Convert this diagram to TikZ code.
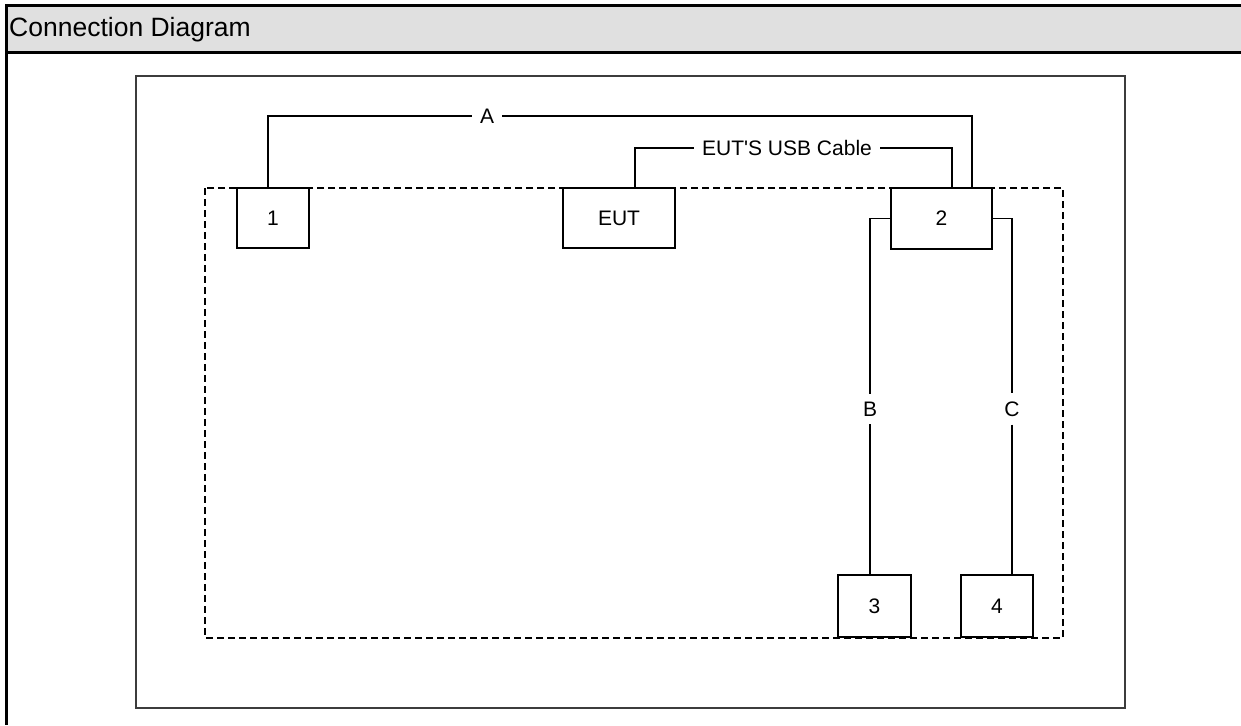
\documentclass[tikz,border=0pt]{standalone}
\usepackage{fontspec}
\setmainfont{Liberation Sans}
\definecolor{hdr}{RGB}{224,224,224}
\definecolor{frame}{RGB}{60,60,60}
\begin{document}
\begin{tikzpicture}[x=1pt,y=-1pt,
  dev/.style={draw=black,line width=1.8pt,fill=white,inner sep=0pt,font=\fontsize{21}{24}\selectfont},
  lbl/.style={inner xsep=8pt,inner ysep=2pt,font=\fontsize{21}{24}\selectfont},
  vlbl/.style={inner xsep=2pt,inner ysep=8pt,font=\fontsize{21}{24}\selectfont},
  cable/.style={line width=1.8pt},
  tbl/.style={line width=3pt}]
\useasboundingbox (0,0) rectangle (1241,725);
% table
\fill[hdr] (6,6) rectangle (1241,53);
\draw[tbl] (1241,6) -- (6,6) -- (6,725);
\draw[tbl] (6,53) -- (1241,53);
\node[anchor=west,font=\fontsize{26.5}{30}\selectfont,inner sep=0pt] (title) at (9,30) {Connection Diagram};
% frames
\draw[frame,line width=2pt] (135.5,75.5) rectangle (1125,708);
\draw[line width=1.6pt,dash pattern=on 7pt off 4pt] (205,188) rectangle (1063,638);
% devices
\node[dev,minimum width=72pt,minimum height=60pt] (b1) at (273,218) {1};
\node[dev,minimum width=112pt,minimum height=60pt] (eut) at (619,218) {EUT};
\node[dev,minimum width=101pt,minimum height=61pt] (b2) at (941.5,218.5) {2};
\node[dev,minimum width=73pt,minimum height=62pt] (b3) at (874.5,606) {3};
\node[dev,minimum width=72pt,minimum height=62pt] (b4) at (997,606) {4};
% labels
\node[lbl] (la) at (487,116) {A};
\node[lbl] (lu) at (787,148) {EUT\textquotesingle S USB Cable};
\node[vlbl] (lb) at (870,409) {B};
\node[vlbl] (lc) at (1012,409) {C};
% cables
\draw[cable] ([xshift=-5pt]b1.north) |- (la.west);
\draw[cable] (la.east) -| ([xshift=30.5pt]b2.north);
\draw[cable] ([xshift=16pt]eut.north) |- (lu.west);
\draw[cable] (lu.east) -| ([xshift=10.5pt]b2.north);
\draw[cable] (b2.west) -| (lb.north);
\draw[cable] (lb.south) -- (lb.south |- b3.north);
\draw[cable] (b2.east) -| (lc.north);
\draw[cable] (lc.south) -- (lc.south |- b4.north);
\end{tikzpicture}
\end{document}
